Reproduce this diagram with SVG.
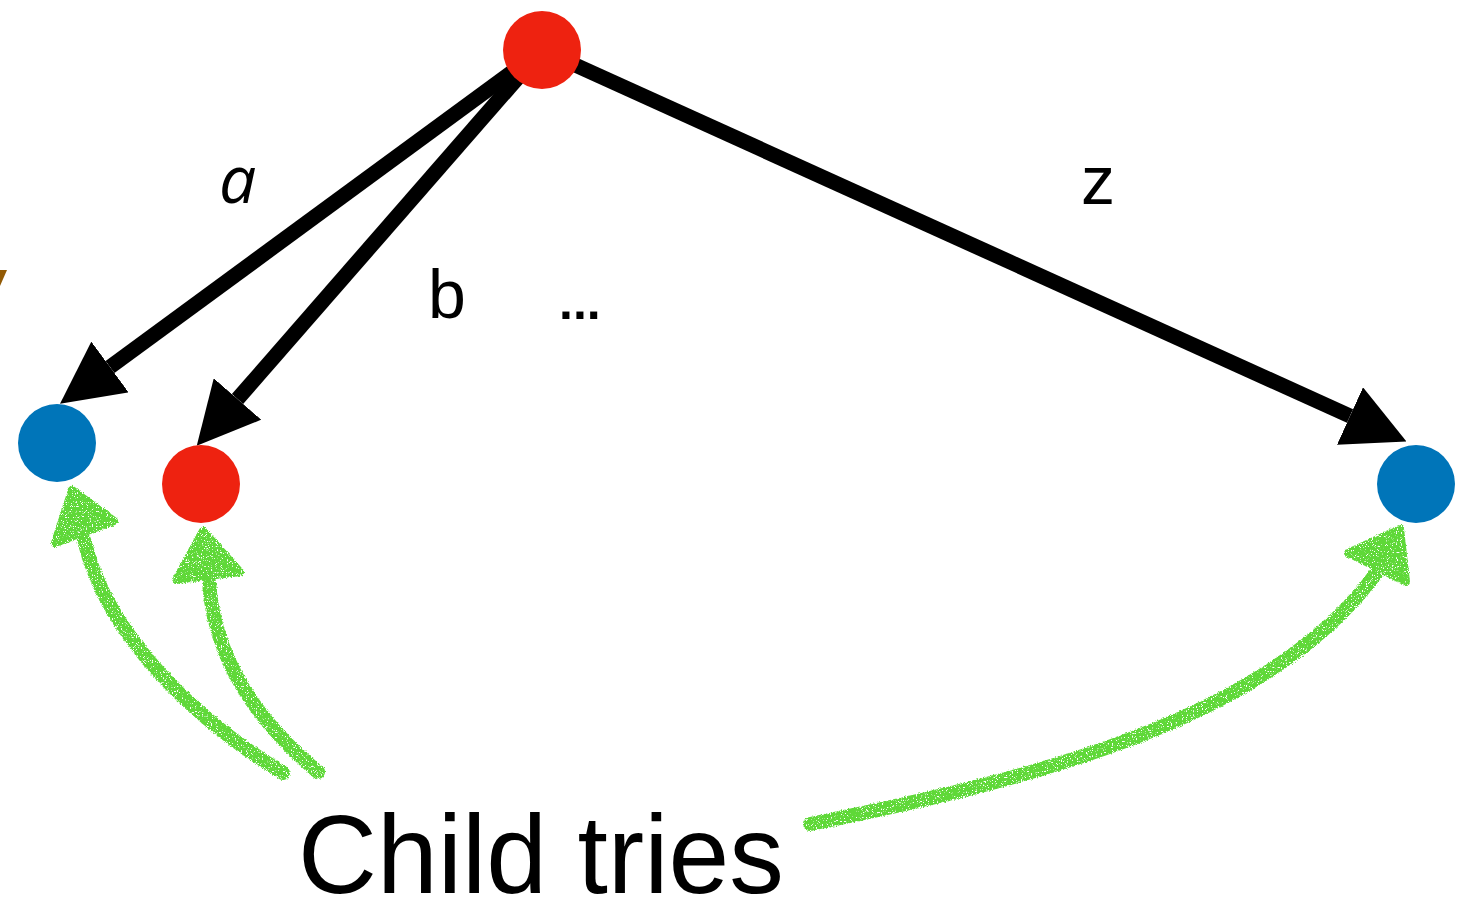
<svg xmlns="http://www.w3.org/2000/svg" width="1461" height="898" viewBox="0 0 1461 898">
  <style>
    .edge { stroke: #000; stroke-width: 15; fill: none; marker-end: url(#ah); }
    .red { fill: #ee2210; }
    .blue { fill: #0075b9; }
    .lbl { font-family: "Liberation Sans", Arial, sans-serif; font-size: 68px; fill: #000; }
    .chalk { stroke: #5ed838; stroke-width: 14; fill: none; stroke-linecap: round; }
    .chalkhead { fill: #5ed838; stroke: #5ed838; stroke-width: 8; stroke-linejoin: round; }
  </style>
  <defs>
    <marker id="ah" markerUnits="userSpaceOnUse" viewBox="0 0 62 63" refX="0" refY="31.5" markerWidth="62" markerHeight="63" orient="auto">
      <path d="M0,0 L62,31.5 L0,63 Z" fill="#000"/>
    </marker>
    <filter id="rough" x="-20%" y="-20%" width="140%" height="140%">
      <feTurbulence type="fractalNoise" baseFrequency="0.8" numOctaves="2" seed="4" result="n"/>
      <feDisplacementMap in="SourceGraphic" in2="n" scale="4" xChannelSelector="R" yChannelSelector="G" result="d"/>
      <feColorMatrix in="n" type="matrix" values="0 0 0 0 0  0 0 0 0 0  0 0 0 0 0  -10 0 0 0 7.1" result="m"/>
      <feComposite in="d" in2="m" operator="in"/>
    </filter>
  </defs>

  <polygon points="0,270 7,270 0,286" fill="#925a05"/>

  <g id="connectors">
    <line class="edge" x1="542" y1="50" x2="110" y2="367"/>
    <line class="edge" x1="542" y1="50" x2="237.5" y2="399"/>
    <line class="edge" x1="542" y1="50" x2="1350" y2="416"/>
  </g>

  <g id="label-a"><text class="lbl" x="219" y="203" style="font-family:'Open Sans','Noto Sans',sans-serif;font-style:italic;font-size:66px">a</text></g>
  <g id="label-b"><text class="lbl" x="428" y="318">b</text></g>
  <g id="label-dots"><text class="lbl" x="559" y="319" style="font-size:50px;font-weight:bold">...</text></g>
  <g id="label-z"><text class="lbl" x="1081" y="204">z</text></g>

  <g id="root"><circle class="red" cx="542" cy="50" r="39"/></g>
  <g id="child-a"><circle class="blue" cx="57" cy="443" r="39"/></g>
  <g id="child-b"><circle class="red" cx="201" cy="484" r="39"/></g>
  <g id="child-z"><circle class="blue" cx="1416" cy="484" r="39"/></g>

  <g id="annotation-arrows" filter="url(#rough)">
    <path class="chalk" d="M283,773 C200,722 108,640 84,540"/>
    <polygon class="chalkhead" points="72,490 55,543 114,521"/>
    <path class="chalk" d="M318,772 C258,722 214,660 209,582"/>
    <polygon class="chalkhead" points="203,531 176,580 240,572"/>
    <path class="chalk" d="M810,824 C1030,780 1270,720 1377,572"/>
    <polygon class="chalkhead" points="1400,529 1348,553 1406,582"/>
  </g>

  <g id="caption"><text x="298" y="893" textLength="486" lengthAdjust="spacingAndGlyphs" style="font-family:'Liberation Sans',Arial,sans-serif;font-size:112px;fill:#000">Child tries</text></g>
</svg>
